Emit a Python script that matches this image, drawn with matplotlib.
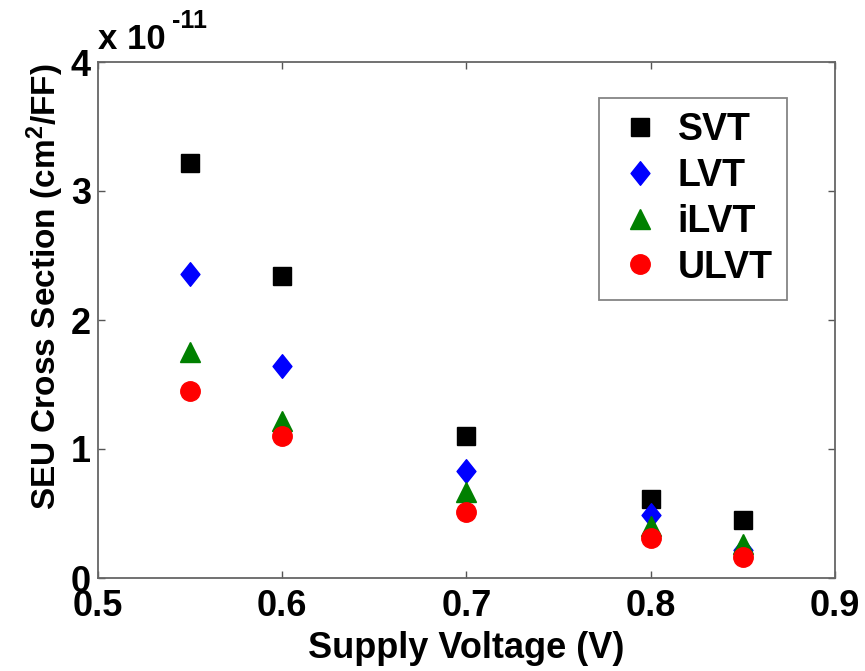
import matplotlib.pyplot as plt
from matplotlib.path import Path
import numpy as np

plt.rcParams['font.family'] = ['Liberation Sans', 'DejaVu Sans']
plt.rcParams['font.weight'] = 'bold'
plt.rcParams['mathtext.fontset'] = 'custom'
plt.rcParams['mathtext.rm'] = 'Liberation Sans:bold'
plt.rcParams['mathtext.bf'] = 'Liberation Sans:bold'
plt.rcParams['mathtext.default'] = 'bf'

# Supply voltage (V) and SEU cross section (x 1e-11 cm^2/FF)
voltage = [0.55, 0.6, 0.7, 0.8, 0.85]
svt = [3.22, 2.34, 1.10, 0.61, 0.45]
lvt = [2.36, 1.64, 0.83, 0.49, 0.22]
ilvt = [1.75, 1.22, 0.67, 0.40, 0.26]
ulvt = [1.45, 1.10, 0.51, 0.31, 0.16]

# tall diamond like the matlab one
diamond = Path([(0, 1), (0.8, 0), (0, -1), (-0.8, 0), (0, 1)],
               [Path.MOVETO, Path.LINETO, Path.LINETO, Path.LINETO, Path.CLOSEPOLY])

fig = plt.figure(figsize=(8.65, 6.71), dpi=100)
ax = fig.add_axes([98 / 865, 1 - 578 / 671, 737 / 865, 516 / 671])

ax.plot(voltage, svt, 's', color='black', ms=12.5, label='SVT')
ax.plot(voltage, lvt, marker=diamond, ls='none', color='blue', ms=17, label='LVT')
ax.plot(voltage, ilvt, '^', color='green', ms=15, label='iLVT')
ax.plot(voltage, ulvt, 'o', color='red', ms=14, label='ULVT')

ax.set_xlim(0.5, 0.9)
ax.set_ylim(0, 4)
ax.set_xticks(np.arange(0.5, 0.91, 0.1))
ax.set_yticks([0, 1, 2, 3, 4])
ax.set_xticklabels(['0.5', '0.6', '0.7', '0.8', '0.9'])
ax.set_yticklabels(['0', '1', '2', '3', '4'])
ax.tick_params(direction='in', top=True, right=True, length=5, width=1,
               labelsize=26, color='#555555')
ax.tick_params(axis='x', pad=8)
ax.tick_params(axis='y', pad=5)
for s in ax.spines.values():
    s.set_color('#666666')
    s.set_linewidth(1.3)

ax.set_xlabel('Supply Voltage (V)', fontsize=26, fontweight='bold', labelpad=5)
ax.set_ylabel('SEU Cross Section (cm$^2$/FF)', fontsize=24, fontweight='bold')
ax.yaxis.set_label_coords(-0.043, 0.565)

# matlab style exponent label above the axes
ax.text(0.0, 1.012, 'x 10', transform=ax.transAxes, fontsize=25,
        fontweight='bold', ha='left', va='bottom')
ax.annotate('-11', xy=(0, 1), xycoords='axes fraction', xytext=(53, 21),
            textcoords='offset points', fontsize=18, fontweight='bold',
            ha='left', va='bottom')

leg = ax.legend(loc='upper right', bbox_to_anchor=(0.935, 0.930), borderaxespad=0,
                fontsize=27, frameon=True, fancybox=False, edgecolor='#666666',
                handletextpad=0.29, labelspacing=0.26, borderpad=0.38,
                handlelength=1.44)
leg.get_frame().set_linewidth(1.3)
for t in leg.get_texts():
    t.set_fontweight('bold')

fig.savefig('out.png', dpi=100)
